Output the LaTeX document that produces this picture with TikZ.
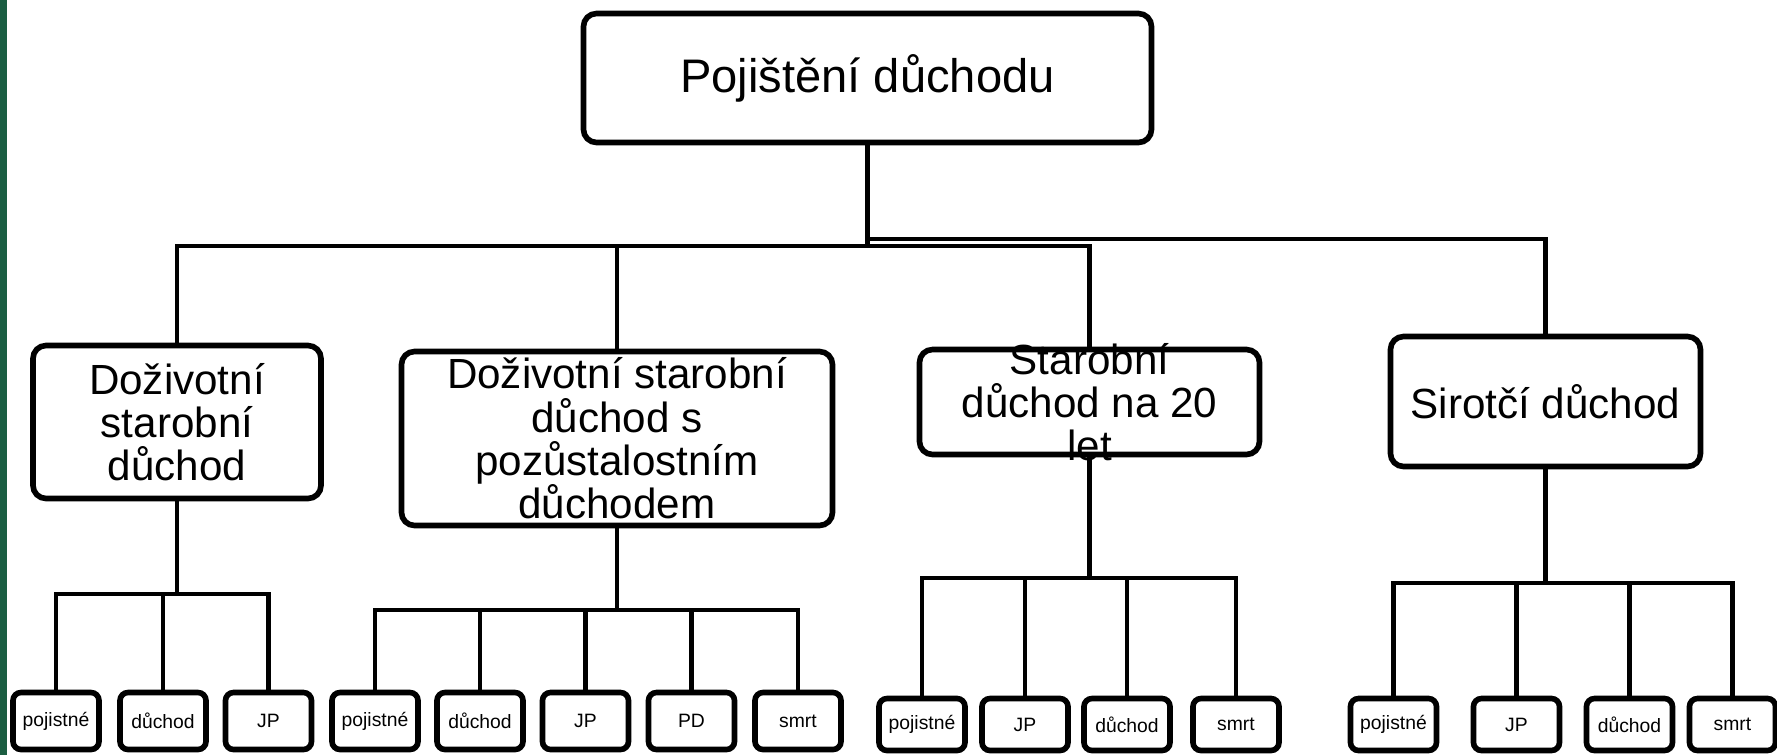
\documentclass[tikz,border=0pt]{standalone}
\usepackage{fontspec}
\setmainfont{Liberation Sans}
\usepackage{xcolor}
\usepackage{tikz}
\definecolor{slidegreen}{HTML}{1B5E42}

\begin{document}
\begin{tikzpicture}[
  ubox/.style={draw, line width=1.6pt, rounded corners=0.13cm, inner sep=0pt, align=center},
  rootbox/.style={ubox, minimum width=5.68cm, minimum height=1.29cm, font=\fontsize{13.4}{16}\selectfont},
  midbox/.style={ubox, font=\fontsize{12}{12.3}\selectfont},
  leafbox/.style={ubox, rounded corners=0.08cm, minimum width=0.86cm, minimum height=0.57cm, font=\fontsize{5.5}{6}\selectfont},
  lowleaf/.style={leafbox, minimum height=0.52cm},
  link/.style={line width=1.4pt}
]
\useasboundingbox (0,0) rectangle (17.77,-7.55);
\fill[slidegreen] (0,0) rectangle (0.065,-7.55);

\node[rootbox] (root) at (8.675,-0.78) {Pojištění důchodu};

\node[midbox, minimum width=2.88cm, minimum height=1.53cm] (dsd) at (1.77,-4.22) {Doživotní\\starobní\\důchod};
\node[midbox, minimum width=4.31cm, minimum height=1.74cm] (dsp) at (6.17,-4.385) {Doživotní starobní\\důchod s\\pozůstalostním\\důchodem};
\node[midbox, minimum width=3.40cm, minimum height=1.05cm] (sd20) at (10.895,-4.02) {};
\node[align=center, inner sep=0pt, font=\fontsize{12}{12.3}\selectfont] (sd20txt) at (sd20) {Starobní\\důchod na 20\\let};
\node[midbox, minimum width=3.10cm, minimum height=1.30cm] (sir) at (15.455,-4.015) {Sirotčí důchod};

\coordinate (rj) at (8.675,-2.46);
\coordinate (rj2) at (8.675,-2.39);
\draw[link] (root) -- (rj);
\draw[link] (rj) -| (dsd.north);
\draw[link] (rj) -| (dsp.north);
\draw[link] (rj) -| (sd20.north);
\draw[link] (rj2) -| (sir.north);

\node[leafbox] (p1) at (0.56,-7.21) {pojistné};
\node[leafbox] (d1) at (1.63,-7.21) {důchod};
\node[leafbox] (jp1) at (2.685,-7.21) {JP};
\coordinate (j1) at (1.77,-5.94);
\draw[link] (dsd) -- (j1);
\draw[link] (j1) -| (p1);
\draw[link] (j1) -| (d1);
\draw[link] (j1) -| (jp1);

\node[leafbox] (p2) at (3.75,-7.21) {pojistné};
\node[leafbox] (d2) at (4.80,-7.21) {důchod};
\node[leafbox] (jp2) at (5.855,-7.21) {JP};
\node[leafbox] (pd2) at (6.915,-7.21) {PD};
\node[leafbox] (sm2) at (7.98,-7.21) {smrt};
\coordinate (j2) at (6.17,-6.10);
\draw[link] (dsp) -- (j2);
\draw[link] (j2) -| (p2);
\draw[link] (j2) -| (d2);
\draw[link] (j2) -| (jp2);
\draw[link] (j2) -| (pd2);
\draw[link] (j2) -| (sm2);

\node[lowleaf] (p3) at (9.22,-7.245) {pojistné};
\node[lowleaf] (jp3) at (10.25,-7.245) {JP};
\node[lowleaf] (d3) at (11.27,-7.245) {důchod};
\node[lowleaf] (sm3) at (12.36,-7.245) {smrt};
\coordinate (j3) at (10.895,-5.78);
\draw[link] (sd20) -- (j3);
\draw[link] (j3) -| (p3);
\draw[link] (j3) -| (jp3);
\draw[link] (j3) -| (d3);
\draw[link] (j3) -| (sm3);

\node[lowleaf] (p4) at (13.935,-7.245) {pojistné};
\node[lowleaf] (jp4) at (15.165,-7.245) {JP};
\node[lowleaf] (d4) at (16.295,-7.245) {důchod};
\node[lowleaf] (sm4) at (17.325,-7.245) {smrt};
\coordinate (j4) at (15.455,-5.83);
\draw[link] (sir) -- (j4);
\draw[link] (j4) -| (p4);
\draw[link] (j4) -| (jp4);
\draw[link] (j4) -| (d4);
\draw[link] (j4) -| (sm4);
\end{tikzpicture}
\end{document}
